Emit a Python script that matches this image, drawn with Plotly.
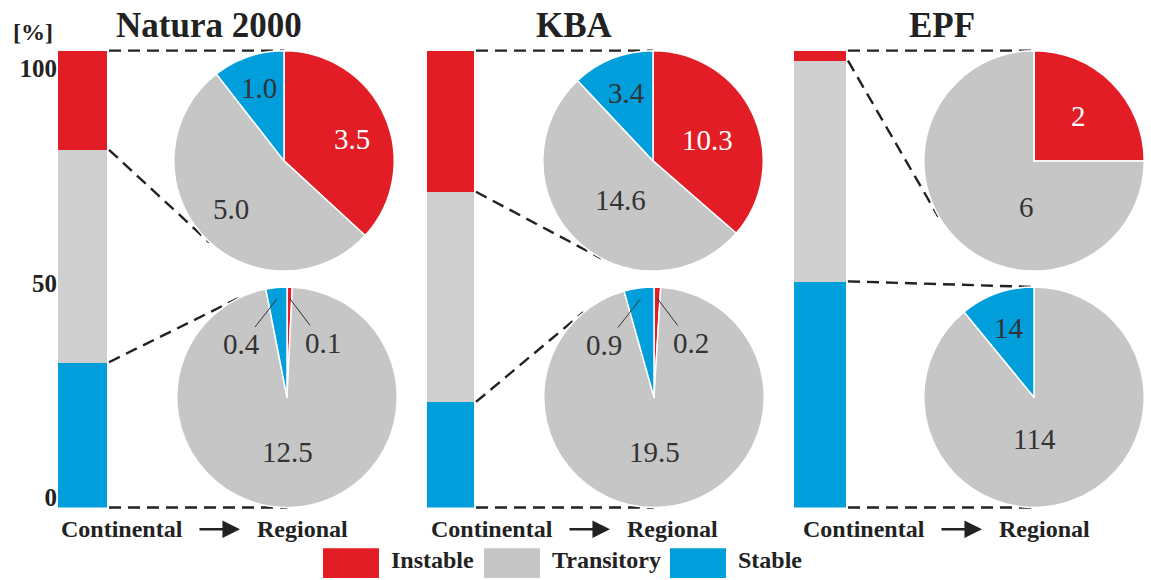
import math
import plotly.graph_objects as go

W, H = 1151, 580

# ---------------- data ----------------
panels = ["Natura 2000", "KBA", "EPF"]
categories = ["Instable", "Transitory", "Stable"]

# continental shares [%] (stacked bars)
continental_instable = [21.7, 30.9, 2.2]
continental_transitory = [46.5, 46.0, 48.3]
continental_stable = [31.8, 23.1, 49.5]

# regional composition of continental-instable (top pie) and continental-stable (bottom pie)
# order: Instable, Transitory, Stable
regional_of_instable = [[3.5, 5.0, 1.0], [10.3, 14.6, 3.4], [2, 6, 0]]
regional_of_stable = [[0.1, 12.5, 0.4], [0.2, 19.5, 0.9], [0, 114, 14]]

y_ticks = [0, 50, 100]
y_unit = "[%]"
caption_from = "Continental"
caption_to = "Regional"

# ---------------- styles / layout geometry (pixels) ----------------
FONT = "Liberation Serif"
INK = "#222222"
bar_colors = {"Instable": "#E31D25", "Transitory": "#CFCFCF", "Stable": "#009EDB"}
pie_colors = {"Instable": "#E31D25", "Transitory": "#C6C6C6", "Stable": "#009EDB"}
text_colors = {"Instable": "white", "Transitory": "#333333", "Stable": "#333333"}
label_decimals = [1, 1, 0]

BAR_X = [(58, 107), (427, 474), (794, 846)]
BAR_TOP, BAR_BOTTOM = 51, 511
TICK_PX_0, TICK_PX_100 = 501, 69
PIE_R = 111
PIE_CX_TOP = [284, 653, 1034]
PIE_CX_BOT = [287, 654, 1034]
PIE_CY_TOP = 162
PIE_CY_BOT = 400
TITLE_X = [209, 574, 942]
TITLE_Y = 26
CAPTION_X0 = [63, 433, 805]
CAPTION_Y = 533
LEGEND_X = [323, 484, 670]
LEGEND_BOX = (56, 552, 582)

# label placement per slice: (radius fraction, angle override) or "leader" or None
top_label_place = [
    [(0.64, 72), (0.65, None), (0.70, None)],
    [(0.53, 69), (0.46, 220), (0.66, None)],
    [(0.57, None), (0.42, 189), None],
]
bot_label_place = [
    ["leader", (0.5, 180), "leader"],
    ["leader", (0.5, 180), "leader"],
    [None, (0.38, 180), (0.67, None)],
]
LEADER_OFF_LEFT = (-36, 46)
LEADER_OFF_RIGHT = (34, 45)


def fx(x):
    return x / W


def fy(y):
    return 1 - y / H


def bar_px(v):
    return BAR_BOTTOM - v / 100.0 * (BAR_BOTTOM - BAR_TOP)


def tangent(p, c, r, upper):
    dx, dy = p[0] - c[0], p[1] - c[1]
    d = math.hypot(dx, dy)
    th = math.atan2(dy, dx)
    a = math.acos(min(1.0, r / d))
    pts = [(c[0] + r * math.cos(th + s * a), c[1] + r * math.sin(th + s * a)) for s in (1, -1)]
    pts.sort(key=lambda q: q[1])
    return pts[0] if upper else pts[1]


fig = go.Figure()
annotations = []
shapes = []

cont = {"Instable": continental_instable, "Transitory": continental_transitory,
        "Stable": continental_stable}

layout_axes = {}
for i in range(len(panels)):
    sfx = "" if i == 0 else str(i + 1)
    for cat in ["Stable", "Transitory", "Instable"]:
        fig.add_trace(go.Bar(
            x=[0], y=[cont[cat][i]], width=1, name=cat,
            marker=dict(color=bar_colors[cat], line=dict(width=0)),
            xaxis="x" + sfx, yaxis="y" + sfx, showlegend=False, hoverinfo="name+y"))
    layout_axes["xaxis" + sfx] = dict(domain=[fx(BAR_X[i][0]), fx(BAR_X[i][1])],
                                      range=[-0.5, 0.5], visible=False,
                                      anchor="y" + sfx, fixedrange=True)
    layout_axes["yaxis" + sfx] = dict(domain=[fy(BAR_BOTTOM), fy(BAR_TOP)],
                                      range=[0, 100], visible=False,
                                      anchor="x" + sfx, fixedrange=True)

# tick-label axis for the percentage scale
ppu = (TICK_PX_0 - TICK_PX_100) / 100.0
lo = -(BAR_BOTTOM - TICK_PX_0) / ppu
hi = 100 + (TICK_PX_100 - BAR_TOP) / ppu
fig.add_trace(go.Scatter(x=[], y=[], xaxis="x", yaxis="y4", showlegend=False))
layout_axes["yaxis4"] = dict(overlaying="y", anchor="x", side="left", range=[lo, hi],
                             tickvals=y_ticks, ticktext=[str(t) for t in y_ticks],
                             showgrid=False, zeroline=False, showline=False, ticks="",
                             tickfont=dict(family=FONT, size=25, color=INK, weight="bold"),
                             fixedrange=True)


def add_pie(values, cx, cy, place, dec):
    fig.add_trace(go.Pie(
        values=values, labels=categories, sort=False, direction="clockwise", rotation=0,
        marker=dict(colors=[pie_colors[c] for c in categories],
                    line=dict(color="white", width=1.5)),
        textinfo="none", showlegend=False, hoverinfo="label+value",
        domain=dict(x=[fx(cx - PIE_R), fx(cx + PIE_R)], y=[fy(cy + PIE_R), fy(cy - PIE_R)])))
    total = float(sum(values))
    start = 0.0
    for k, v in enumerate(values):
        span = v / total * 360.0
        mid = start + span / 2.0
        start += span
        pl = place[k]
        if pl is None or v == 0:
            continue
        txt = f"{v:.{dec}f}"
        if pl == "leader":
            a = math.radians(mid)
            px = cx + 0.9 * PIE_R * math.sin(a)
            py = cy - 0.9 * PIE_R * math.cos(a)
            off = LEADER_OFF_LEFT if mid > 180 else LEADER_OFF_RIGHT
            annotations.append(dict(x=fx(px), y=fy(py), xref="paper", yref="paper",
                                    text=txt, showarrow=True, arrowhead=0, arrowwidth=1,
                                    arrowcolor="#333333", ax=off[0], ay=off[1], standoff=0,
                                    font=dict(family=FONT, size=29, color="#333333")))
        else:
            rf, ang = pl
            a = math.radians(mid if ang is None else ang)
            px = cx + rf * PIE_R * math.sin(a)
            py = cy - rf * PIE_R * math.cos(a)
            annotations.append(dict(x=fx(px), y=fy(py), xref="paper", yref="paper",
                                    text=txt, showarrow=False, xanchor="center",
                                    yanchor="middle",
                                    font=dict(family=FONT, size=29,
                                              color=text_colors[categories[k]])))


dash_line = dict(color=INK, width=2.4, dash="12px,7px")
for i in range(len(panels)):
    ctop = (PIE_CX_TOP[i], PIE_CY_TOP)
    cbot = (PIE_CX_BOT[i], PIE_CY_BOT)
    add_pie(regional_of_instable[i], ctop[0], ctop[1], top_label_place[i], label_decimals[i])
    add_pie(regional_of_stable[i], cbot[0], cbot[1], bot_label_place[i], label_decimals[i])

    xr = BAR_X[i][1]
    conns = [
        ((xr, bar_px(100)), ctop, True),
        ((xr, bar_px(100 - continental_instable[i])), ctop, False),
        ((xr, bar_px(continental_stable[i])), cbot, True),
        ((xr, bar_px(0)), cbot, False),
    ]
    for p, c, up in conns:
        t = tangent(p, c, PIE_R, up)
        shapes.append(dict(type="line", xref="paper", yref="paper",
                           x0=fx(p[0] + 2), y0=fy(p[1]), x1=fx(t[0]), y1=fy(t[1]),
                           line=dash_line, layer="below"))

    # panel title
    annotations.append(dict(x=fx(TITLE_X[i]), y=fy(TITLE_Y), xref="paper", yref="paper",
                            text=panels[i], showarrow=False, xanchor="center", yanchor="middle",
                            font=dict(family=FONT, size=35, color=INK, weight="bold")))
    # caption
    x0 = CAPTION_X0[i]
    annotations.append(dict(x=fx(x0 + 122), y=fy(CAPTION_Y), xref="paper", yref="paper",
                            text=caption_from, showarrow=False, xanchor="right",
                            yanchor="middle",
                            font=dict(family=FONT, size=24, color=INK, weight="bold")))
    annotations.append(dict(x=fx(x0 + 192), y=fy(CAPTION_Y), xref="paper", yref="paper",
                            text=caption_to, showarrow=False, xanchor="left",
                            yanchor="middle",
                            font=dict(family=FONT, size=24, color=INK, weight="bold")))
    annotations.append(dict(x=fx(x0 + 177), y=fy(CAPTION_Y), xref="paper", yref="paper",
                            text="", showarrow=True, arrowhead=2, arrowsize=1.35,
                            arrowwidth=2.6, arrowcolor=INK, ax=-42, ay=0, standoff=0,
                            startstandoff=0))

# unit label
annotations.append(dict(x=fx(33), y=fy(32), xref="paper", yref="paper", text=y_unit,
                        showarrow=False, xanchor="center", yanchor="middle",
                        font=dict(family=FONT, size=24, color=INK, weight="bold")))

# legend
bw, by0, by1 = LEGEND_BOX
for k, cat in enumerate(categories):
    lx = LEGEND_X[k]
    shapes.append(dict(type="rect", xref="paper", yref="paper",
                       x0=fx(lx), x1=fx(lx + bw), y0=fy(by1), y1=fy(by0),
                       fillcolor=pie_colors[cat], line=dict(width=0)))
    annotations.append(dict(x=fx(lx + bw + 10), y=fy(564), xref="paper", yref="paper",
                            text=cat, showarrow=False, xanchor="left", yanchor="middle",
                            font=dict(family=FONT, size=24, color=INK, weight="bold")))

fig.update_layout(
    width=W, height=H, margin=dict(l=0, r=0, t=0, b=0),
    paper_bgcolor="white", plot_bgcolor="rgba(0,0,0,0)",
    barmode="stack", bargap=0, showlegend=False,
    annotations=annotations, shapes=shapes,
    **layout_axes,
)

fig.write_html("out.html", config={"displayModeBar": False},
               post_script="document.body.style.margin='0px';")
